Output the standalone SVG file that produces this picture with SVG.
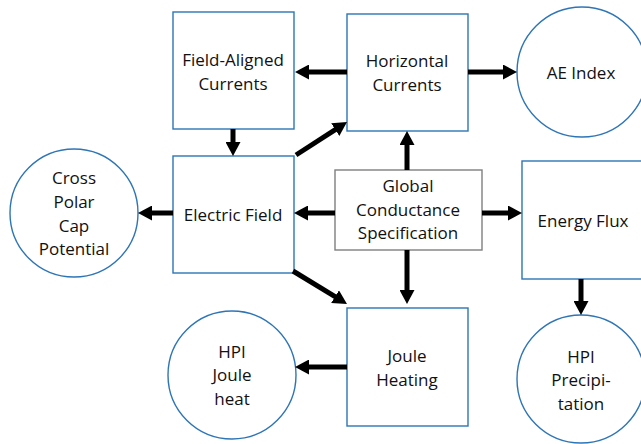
<svg xmlns="http://www.w3.org/2000/svg" width="641" height="444" viewBox="0 0 641 444">
<style>
.box{fill:#fff;stroke:#2E75B6;stroke-width:1.4}
.gbox{fill:#fff;stroke:#7f7f7f;stroke-width:1.4}
text{font-family:"Open Sans","Liberation Sans",sans-serif;font-size:17px;fill:#111;text-anchor:middle}
.c line{stroke:#000;stroke-width:5;marker-end:url(#ah)}
</style>
<defs>
<marker id="ah" markerUnits="userSpaceOnUse" markerWidth="15" markerHeight="15" refX="1" refY="7.5" orient="auto">
<path d="M0,0 L14,7.5 L0,15 z" fill="#000"/>
</marker>
</defs>
<rect width="641" height="444" fill="#fff"/>
<g id="fac"><rect class="box" x="173" y="12" width="121" height="117"/><text x="233" y="66">Field-Aligned</text><text x="233" y="90">Currents</text></g>
<g id="hc"><rect class="box" x="347" y="14" width="121" height="117"/><text x="407" y="67">Horizontal</text><text x="407" y="91">Currents</text></g>
<g id="ae"><circle class="box" cx="582" cy="72" r="65"/><text x="581" y="79">AE Index</text></g>
<g id="ef"><rect class="box" x="173" y="156" width="121" height="117"/><text x="233" y="221">Electric Field</text></g>
<g id="cpcp"><circle class="box" cx="74" cy="213" r="64"/><text x="74" y="184">Cross</text><text x="74" y="208">Polar</text><text x="74" y="232">Cap</text><text x="74" y="255">Potential</text></g>
<g id="gcs"><rect class="gbox" x="335" y="170" width="147" height="80"/><text x="408" y="192">Global</text><text x="408" y="216">Conductance</text><text x="408" y="239">Specification</text></g>
<g id="efl"><rect class="box" x="522" y="161" width="122" height="118"/><text x="583" y="227">Energy Flux</text></g>
<g id="jh"><rect class="box" x="347" y="308" width="121" height="118"/><text x="407" y="362">Joule</text><text x="407" y="386">Heating</text></g>
<g id="hpij"><circle class="box" cx="232" cy="375" r="64"/><text x="232" y="358">HPI</text><text x="232" y="381">Joule</text><text x="232" y="405">heat</text></g>
<g id="hpip"><circle class="box" cx="581" cy="379" r="64"/><text x="581" y="363">HPI</text><text x="581" y="386">Precipi-</text><text x="581" y="410">tation</text></g>
<g id="connectors" class="c">
<line x1="347" y1="72" x2="308" y2="72"/>
<line x1="468" y1="72" x2="504" y2="72"/>
<line x1="233" y1="129" x2="233" y2="143"/>
<line x1="296" y1="155" x2="336.1" y2="129.1"/>
<line x1="407" y1="170" x2="407" y2="144"/>
<line x1="335" y1="213" x2="307" y2="213"/>
<line x1="173" y1="213" x2="151" y2="213"/>
<line x1="482" y1="213" x2="509" y2="213"/>
<line x1="407" y1="250" x2="407" y2="291"/>
<line x1="293" y1="271" x2="335.9" y2="297.2"/>
<line x1="581" y1="279" x2="581" y2="302"/>
<line x1="347" y1="367" x2="308" y2="367"/>
</g>
</svg>
